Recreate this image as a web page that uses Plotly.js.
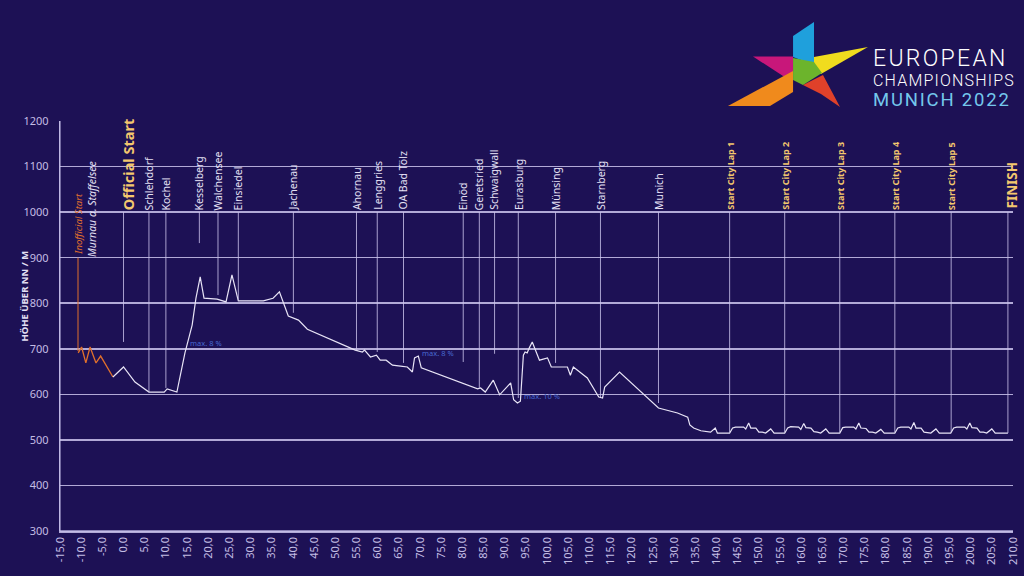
<!DOCTYPE html>
<html>
<head>
<meta charset="utf-8">
<script src="https://cdn.plot.ly/plotly-3.0.1.min.js"></script>
<style>
html,body{margin:0;padding:0;background:#1d1155;}
#chart{width:1024px;height:576px;}
</style>
</head>
<body>
<div id="chart"></div>
<script>
// ---------- DATA ----------
// Neutralised section (orange)
const kmNeutral   = [-10.7, -9.9, -8.9, -7.9, -6.5, -5.4, -2.5];
const elevNeutral = [691, 704, 669, 704, 669, 684, 638];

// Race profile (white)
const kmRace = [-2.5, 0, 2.7, 6.0, 9.6, 10.3, 12.6, 14.5, 16.2, 17.1, 18.1, 19.0, 22.1, 24.2, 25.6, 27.1,
  33.0, 35.3, 36.8, 38.9, 41.3, 43.4, 54.7, 56.4, 56.9, 58.3, 59.7, 60.6, 62.0, 63.5, 65.4, 67.0,
  68.2, 68.7, 69.6, 70.3, 83.6, 84.3, 85.4, 87.3, 88.8, 91.4, 92.1, 93.0, 93.7, 94.4, 94.8, 95.3,
  95.8, 96.5, 98.2, 100.1, 101.0, 104.8, 105.5, 106.2, 109.5, 112.2, 113.1, 113.6, 117.1, 126.3,
  130.8, 133.2, 133.7, 134.6, 136.3, 138.6, 139.7, 140.2, 143.1,
  143.8, 144.5, 146.4, 146.9, 147.6, 148.1, 149.3, 150.0, 150.8, 151.6, 152.8, 153.6, 156.1,
  156.8, 157.5, 159.4, 159.9, 160.6, 161.1, 162.3, 163.0, 163.8, 164.6, 165.8, 166.6, 169.1,
  169.8, 170.5, 172.4, 172.9, 173.6, 174.1, 175.3, 176.0, 176.8, 177.6, 178.8, 179.6, 182.1,
  182.8, 183.5, 185.4, 185.9, 186.6, 187.1, 188.3, 189.0, 189.8, 190.6, 191.8, 192.6, 195.3,
  196.0, 196.7, 198.6, 199.1, 199.8, 200.3, 201.5, 202.2, 203.0, 203.8, 205.0, 205.8, 208.8];
const elevRace = [638, 660, 627, 605, 605, 612, 605, 691, 752, 811, 858, 811, 809, 803, 862, 805,
  805, 811, 825, 772, 763, 743, 697, 693, 697, 682, 686, 675, 675, 664, 662, 660,
  649, 680, 684, 658, 612, 614, 605, 631, 599, 625, 588, 581, 585, 686, 693, 691,
  702, 715, 675, 680, 660, 660, 642, 660, 636, 594, 592, 616, 649, 570,
  559, 550, 533, 526, 520, 517, 526, 515, 515,
  526, 528, 528, 524, 537, 526, 526, 517, 517, 515, 524, 515, 515,
  526, 529, 528, 523, 536, 527, 526, 518, 517, 515, 524, 515, 515,
  527, 528, 528, 524, 537, 526, 525, 517, 517, 515, 523, 515, 515,
  526, 528, 528, 524, 538, 526, 526, 517, 516, 515, 524, 515, 515,
  526, 528, 528, 524, 537, 527, 526, 517, 517, 515, 524, 515, 515];

// Places along the route
const placeNames = ['Schlehdorf', 'Kochel', 'Kesselberg', 'Walchensee', 'Einsiedel', 'Jachenau', 'Ahornau',
  'Lenggries', 'OA Bad Tölz', 'Einöd', 'Geretsried', 'Schwaigwall', 'Eurasburg', 'Münsing', 'Starnberg', 'Munich'];
const placeKm = [6.0, 10.0, 17.9, 22.3, 27.1, 40.1, 55.0, 59.9, 66.1, 80.2, 84.0, 87.6, 93.2, 102.0, 112.6, 126.3];
const placeLineEnd = [605, 614, 932, 818, 807, 779, 697, 693, 669, 671, 614, 689, 592, 669, 594, 581];

// City laps
const lapNames = ['Start City Lap 1', 'Start City Lap 2', 'Start City Lap 3', 'Start City Lap 4', 'Start City Lap 5'];
const lapKm = [143.1, 156.1, 169.1, 182.1, 195.4];
const lapLineEnd = [517, 517, 517, 517, 517];

// Start / finish
const officialStartKm = 0, officialStartEnd = 715;
const finishKm = 208.8, finishEnd = 515;
const inofficialKm = -10.75, inofficialTop = 900, inofficialEnd = 695;
const murnauKm = -7.6;

// Gradient notes
const gradeText = ['max. 8 %', 'max. 8 %', 'max. 10 %'];
const gradeKm = [19.5, 74.3, 98.9];
const gradeElev = [713, 691, 596];

// Axis ticks
const xTickVals = [-15,-10,-5,0,5,10,15,20,25,30,35,40,45,50,55,60,65,70,75,80,85,90,95,100,105,110,115,120,
  125,130,135,140,145,150,155,160,165,170,175,180,185,190,195,200,205,210];
const yTickVals = [300,400,500,600,700,800,900,1000,1100,1200];

// ---------- STYLE ----------
const BG = '#1d1155';
const GRID = 'rgba(205,198,238,0.85)';
const TXT = '#e4e0f4';
const GOLD = '#f3c76e';
const ORANGE = '#e0702c';
const VLINE = 'rgba(205,198,238,0.8)';
const FONT = '"Noto Sans", "Open Sans", sans-serif';

const W = 1024, H = 576, ML = 60, MR = 11, MT = 121, MB = 45;
const PW = W - ML - MR, PH = H - MT - MB;
const px = x => (x - ML) / PW;
const py = y => (H - MB - y) / PH;

const traces = [
  {x: kmNeutral, y: elevNeutral, mode: 'lines', line: {color: ORANGE, width: 1.3}, hoverinfo: 'skip'},
  {x: kmRace, y: elevRace, mode: 'lines', line: {color: '#e8e4f6', width: 1.2}, hoverinfo: 'skip'}
];

const shapes = [];
const annotations = [];

// plot frame (left and bottom axis lines)
shapes.push({type: 'line', xref: 'paper', yref: 'paper', x0: 0, x1: 1, y0: 0, y1: 0,
  line: {color: GRID, width: 1.5}, layer: 'below'});
shapes.push({type: 'line', xref: 'paper', yref: 'paper', x0: 0, x1: 0, y0: 0, y1: 1,
  line: {color: GRID, width: 1.2}, layer: 'below'});

function vline(x, y0, y1, color) {
  shapes.push({type: 'line', xref: 'x', yref: 'y', x0: x, x1: x, y0: y0, y1: y1,
    line: {color: color, width: 1}, layer: 'above'});
}
function vlabel(x, y, text, size, color, opts) {
  annotations.push(Object.assign({x: x, y: y, xref: 'x', yref: 'y', text: text, showarrow: false,
    textangle: -90, xanchor: 'center', yanchor: 'bottom', borderpad: 0,
    font: {family: FONT, size: size, color: color}}, opts || {}));
}

placeNames.forEach((n, i) => {
  vline(placeKm[i], 1000, placeLineEnd[i], VLINE);
  vlabel(placeKm[i], 1000, n, 10.5, TXT, {yshift: 1});
});
lapNames.forEach((n, i) => {
  vline(lapKm[i], 1000, lapLineEnd[i], VLINE);
  vlabel(lapKm[i], 1000, '<b>' + n + '</b>', 9, GOLD, {yshift: 1});
});
vline(officialStartKm, 1000, officialStartEnd, VLINE);
vlabel(officialStartKm, 1000, '<b>Official Start</b>', 14.5, GOLD, {xshift: 4, yshift: 1});
vline(finishKm, 1000, finishEnd, VLINE);
vlabel(finishKm, 1000, '<b>FINISH</b>', 13.5, GOLD, {xshift: 4, yshift: 3});
vline(inofficialKm, inofficialTop, inofficialEnd, ORANGE);
vlabel(inofficialKm, inofficialTop, '<i>Inofficial Start</i>', 9.5, ORANGE, {xshift: 1, yshift: 2});
vlabel(murnauKm, 900, '<i>Murnau a. Staffelsee</i>', 10.5, TXT, {yshift: 0});

gradeText.forEach((t, i) => {
  annotations.push({x: gradeKm[i], y: gradeElev[i], xref: 'x', yref: 'y', text: t, showarrow: false,
    font: {family: FONT, size: 7.5, color: '#4868d0'}});
});

// y-axis title
annotations.push({x: px(15), y: py(296), xref: 'paper', yref: 'paper', text: '<b>HÖHE ÜBER NN / M</b>',
  showarrow: false, textangle: -90, font: {family: FONT, size: 9.5, color: TXT}});

// ---------- LOGO (decoration) ----------
function poly(pts, color) {
  const d = pts.map((p, i) => (i ? 'L' : 'M') + px(p[0]).toFixed(4) + ',' + py(p[1]).toFixed(4)).join(' ') + ' Z';
  shapes.push({type: 'path', xref: 'paper', yref: 'paper', path: d, fillcolor: color,
    line: {width: 0}, layer: 'above'});
}
poly([[753, 56.5], [793, 56.5], [793, 76], [783, 76]], '#c8177a');
poly([[728, 106], [793, 71], [793, 92], [770, 106]], '#f08a1c');
poly([[803, 85], [823, 75], [840, 107], [821, 94]], '#e0412a');
poly([[793, 36], [814, 22], [814, 65], [793, 57]], '#1fa0dc');
poly([[814, 57], [868, 47], [821, 74], [814, 72]], '#f0dc1e');
poly([[793, 58], [814, 62], [822, 73], [803, 85], [793, 80]], '#6cb42c');

const LOGOFONT = 'Roboto, "Noto Sans", sans-serif';
function logoText(yc, text, size, color, weight, spacing, h) {
  annotations.push({x: px(872), y: py(yc), xref: 'paper', yref: 'paper', xanchor: 'left', yanchor: 'middle',
    height: h, valign: 'middle', showarrow: false, borderpad: 0,
    text: '<span style="letter-spacing:' + spacing + 'px">' + text + '</span>',
    font: {family: LOGOFONT, size: size, color: color, weight: weight}});
}
logoText(58, 'EUROPEAN', 23, '#ffffff', 300, 2.3, 22);
logoText(80, 'CHAMPIONSHIPS', 16, '#ffffff', 300, 1.2, 16);
logoText(100, 'MUNICH 2022', 18.5, '#74c8ec', 400, 1.8, 18);

const layout = {
  width: W, height: H,
  margin: {l: ML, r: MR, t: MT, b: MB},
  paper_bgcolor: BG, plot_bgcolor: BG,
  showlegend: false,
  font: {family: FONT, color: '#c4bde4', size: 11},
  xaxis: {
    range: [-15, 210], tickmode: 'array', tickvals: xTickVals,
    ticktext: xTickVals.map(v => v.toFixed(1).replace('.', ',')),
    tickangle: -90, showgrid: false, zeroline: false,
    showline: true, linecolor: GRID, linewidth: 1.5, ticks: '',
    tickfont: {family: FONT, size: 11, color: '#c4bde4'}, fixedrange: true
  },
  yaxis: {
    range: [300, 1200], tickmode: 'array', tickvals: yTickVals,
    showgrid: true, gridcolor: GRID, gridwidth: 1.5, zeroline: false,
    showline: true, linecolor: GRID, linewidth: 1.2, ticks: '', ticklabelstandoff: 8,
    tickfont: {family: FONT, size: 11, color: '#c4bde4'}, fixedrange: true
  },
  shapes: shapes,
  annotations: annotations
};

Plotly.newPlot('chart', traces, layout, {staticPlot: true, displayModeBar: false});
</script>
</body>
</html>
